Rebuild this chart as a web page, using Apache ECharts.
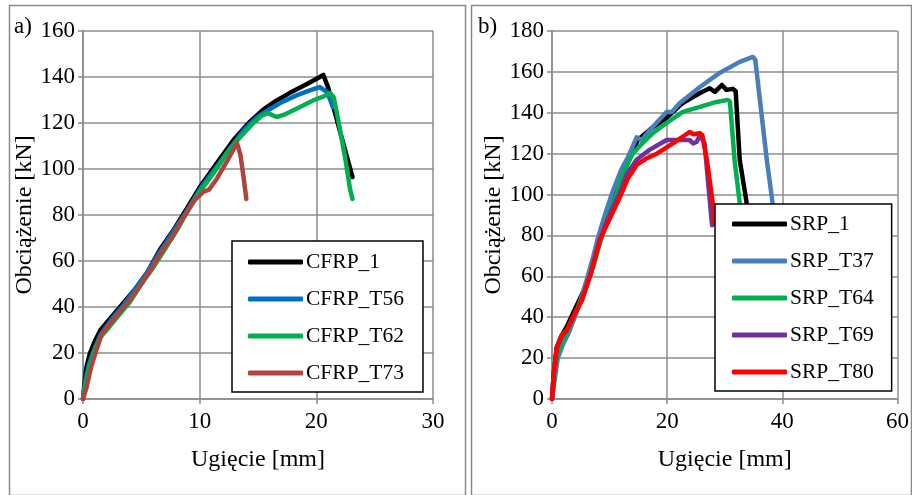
<!DOCTYPE html>
<html><head><meta charset="utf-8">
<script src="https://cdn.jsdelivr.net/npm/echarts@6/dist/echarts.min.js"></script>
<style>html,body{margin:0;padding:0;background:#fff}#c{width:912px;height:495px}</style>
</head><body><div id="c"></div>
<script>
// ---- Data (x = Ugięcie [mm], y = Obciążenie [kN]) ----
var leftXTicks = [0, 10, 20, 30];
var leftYTicks = [0, 20, 40, 60, 80, 100, 120, 140, 160];
var rightXTicks = [0, 20, 40, 60];
var rightYTicks = [0, 20, 40, 60, 80, 100, 120, 140, 160, 180];

var cfrpNames = ['CFRP_1', 'CFRP_T56', 'CFRP_T62', 'CFRP_T73'];
var srpNames = ['SRP_1', 'SRP_T37', 'SRP_T64', 'SRP_T69', 'SRP_T80'];

var CFRP_1 = [[0,0],[0.15,8],[0.3,14],[0.6,20],[1.0,25],[1.5,30],[2.5,36],[3.5,42],[4.5,48],[5.5,55],[6.6,65],[7.7,73],[8.8,82],[10,92],[11.4,102],[12.9,112.6],[14.2,120],[15.4,125.6],[16.5,129.5],[17.7,133],[19.2,137],[20.3,140],[20.6,140.9],[21,135.6],[22.1,115],[23.1,96.5]];
var CFRP_T56 = [[0,0],[0.2,8],[0.5,15],[1,22],[1.5,28],[2.5,35],[3.5,41],[4.5,48],[5.5,55],[6.6,64],[7.7,72.5],[8.8,81],[10,91],[11.3,100],[12.6,109],[13.8,117],[14.9,122.5],[16,126],[16.9,128.7],[18.3,132],[19.5,134.3],[20.3,135.6],[20.9,133.5],[21.2,130],[21.4,127]];
var CFRP_T62 = [[0,0],[0.2,6],[0.5,13],[1,21],[1.5,27],[2.2,31],[3,36],[4,42],[5,50],[6,57],[7,65],[8,73],[9,82],[10,90],[11.3,99],[12.5,108],[13.5,114],[14.5,119.5],[15.3,123],[15.8,124.3],[16.2,123.5],[16.6,122.6],[17.2,123.5],[18.6,127],[19.8,130],[20.6,131.5],[21.2,133],[21.5,131],[22,118],[22.5,104],[22.9,90.9],[23.1,87]];
var CFRP_T73 = [[0,0],[0.3,5],[0.7,14],[1.2,22],[1.6,28],[2.2,32],[3,37],[4,43],[5,50],[6,58],[7,66],[7.6,70],[8.5,78],[9.5,86],[10.3,90],[10.8,91],[11.5,96],[12.3,103],[12.9,108.5],[13.2,111.3],[13.5,106],[13.8,95],[14,87]];

var SRP_1 = [[0,0],[0.3,12],[0.8,25],[1.5,30],[2.5,35],[4,44],[5.5,53],[7,65],[8.3,77],[9.5,89],[11,100],[12.3,110],[13.5,118],[14.9,126.7],[17.3,132.5],[19.9,137.5],[22.7,144.8],[25.7,149.7],[27.4,152],[28.3,150.2],[29.5,153.6],[30.3,151.2],[31.4,151.7],[31.9,150.5],[32.6,117],[33.8,96],[34.1,88]];
var SRP_T37 = [[0,0],[0.5,10],[1,20],[1.8,26],[3,33],[4.5,44],[6,58],[7,68],[8,79],[9.3,91],[10.6,102],[12,112],[13.2,118.4],[14.7,128],[15.6,126.7],[17,131.6],[19.9,140.4],[20.8,140.4],[22.2,144.8],[25.7,152.6],[29.1,159.5],[32.6,164.9],[34.9,167.3],[35.3,166],[37.3,117],[38.3,96],[38.6,88]];
var SRP_T64 = [[0,0],[0.4,10],[0.9,22],[1.7,28],[2.8,34],[4.2,43],[5.7,53],[7.2,65],[8.4,77],[9.7,89],[11.2,100],[12.3,110],[14,120],[15.5,124.5],[17.5,130],[19.9,135],[22.7,140.4],[25.7,142.9],[28.6,145.3],[30.5,146.3],[30.9,145.5],[31.7,117],[32.6,96],[33,87]];
var SRP_T69 = [[0,0],[0.3,12],[0.85,25],[1.7,31],[2.6,34],[4,42],[5.2,48.4],[6.8,62],[8.3,77.8],[10,90],[11.8,101],[13,110],[14.7,117],[17,122],[19.9,126.7],[23.9,126.7],[24.5,125],[25.1,125.7],[25.7,129],[26.5,125],[27.8,85]];
var SRP_T80 = [[0,0],[0.3,12],[0.85,25.4],[1.7,31],[2.6,33.8],[4,42],[5.2,48.4],[6.8,62],[8.3,77.8],[10,88],[11.8,98.8],[13.2,108],[14.7,114.5],[16.3,117.5],[18.2,120],[21,125],[23.9,130.6],[24.6,129.5],[25.7,130],[26.1,129],[26.9,117],[28,94],[28.2,86]];

var cfrpData = [CFRP_1, CFRP_T56, CFRP_T62, CFRP_T73];
var srpData = [SRP_1, SRP_T37, SRP_T64, SRP_T69, SRP_T80];
var cfrpColors = ['#000000', '#0070C0', '#00B050', '#B0443C'];
var srpColors = ['#000000', '#4A7EBB', '#00B050', '#7030A0', '#FF0000'];

// ---- Chart ----
var FONT = '"Liberation Serif", "Times New Roman", serif';
var GRID_COLOR = '#8c8c8c';

function xAxisCfg(gridIndex, ticks) {
  return {
    type: 'value', gridIndex: gridIndex,
    min: ticks[0], max: ticks[ticks.length - 1], interval: ticks[1] - ticks[0],
    name: 'Ugięcie [mm]', nameLocation: 'middle', nameGap: 49,
    nameTextStyle: { fontFamily: FONT, fontSize: 24, color: '#000' },
    axisLine: { show: true, onZero: false, lineStyle: { color: GRID_COLOR, width: 1.5 } },
    axisTick: { show: true, inside: false, length: 5, lineStyle: { color: GRID_COLOR, width: 1.5 } },
    axisLabel: { fontFamily: FONT, fontSize: 23, color: '#000', margin: 11 },
    splitLine: { show: true, lineStyle: { color: GRID_COLOR, width: 1.5 } }
  };
}
function yAxisCfg(gridIndex, ticks) {
  return {
    type: 'value', gridIndex: gridIndex,
    min: ticks[0], max: ticks[ticks.length - 1], interval: ticks[1] - ticks[0],
    name: 'Obciążenie [kN]', nameLocation: 'middle', nameGap: 43, nameRotate: 90,
    nameTextStyle: { fontFamily: FONT, fontSize: 24, color: '#000' },
    axisLine: { show: true, onZero: false, lineStyle: { color: GRID_COLOR, width: 1.5 } },
    axisTick: { show: true, inside: false, length: 5, lineStyle: { color: GRID_COLOR, width: 1.5 } },
    axisLabel: { fontFamily: FONT, fontSize: 23, color: '#000', margin: 8 },
    splitLine: { show: true, lineStyle: { color: GRID_COLOR, width: 1.5 } }
  };
}

var series = [];
cfrpNames.forEach(function (n, i) {
  series.push({ name: n, type: 'line', xAxisIndex: 0, yAxisIndex: 0, data: cfrpData[i],
    showSymbol: false, symbol: 'none', smooth: false, color: cfrpColors[i],
    lineStyle: { width: 4.5, color: cfrpColors[i], cap: 'round', join: 'round' }, z: 2 + i });
});
srpNames.forEach(function (n, i) {
  series.push({ name: n, type: 'line', xAxisIndex: 1, yAxisIndex: 1, data: srpData[i],
    showSymbol: false, symbol: 'none', smooth: false, color: srpColors[i],
    lineStyle: { width: 4.5, color: srpColors[i], cap: 'round', join: 'round' }, z: 2 + i });
});

function legendCfg(names, left, top, pad) {
  return {
    data: names, orient: 'vertical', left: left, top: top,
    selectedMode: false, icon: 'roundRect', itemWidth: 55, itemHeight: 5, itemGap: 15,
    padding: pad, backgroundColor: '#fff', borderColor: '#000', borderWidth: 1.5, borderRadius: 0,
    textStyle: { fontFamily: FONT, fontSize: 21.5, color: '#000', lineHeight: 21, padding: [0, 0, 0, -2] },
    z: 10
  };
}

var chart = echarts.init(document.getElementById('c'), null, { renderer: 'canvas' });
chart.setOption({
  animation: false,
  backgroundColor: '#fff',
  grid: [
    { left: 83, top: 31, width: 350, height: 368, containLabel: false },
    { left: 552, top: 31, width: 346, height: 368, containLabel: false }
  ],
  xAxis: [xAxisCfg(0, leftXTicks), xAxisCfg(1, rightXTicks)],
  yAxis: [yAxisCfg(0, leftYTicks), yAxisCfg(1, rightYTicks)],
  legend: [
    legendCfg(cfrpNames, 232, 241, [10, 19, 8, 16]),
    legendCfg(srpNames, 715, 204, [9, 18, 8, 17])
  ],
  graphic: [
    { type: 'rect', left: 7, top: 3, shape: { width: 456, height: 490 }, style: { fill: 'none', stroke: '#8a8a8a', lineWidth: 1.5 }, z: -1 },
    { type: 'rect', left: 469, top: 3, shape: { width: 440, height: 490 }, style: { fill: 'none', stroke: '#8a8a8a', lineWidth: 1.5 }, z: -1 },
    { type: 'text', left: 14, top: 15, style: { text: 'a)', font: '23px ' + FONT, fill: '#000' } },
    { type: 'text', left: 478, top: 15, style: { text: 'b)', font: '23px ' + FONT, fill: '#000' } }
  ],
  series: series
});
</script>
</body></html>
